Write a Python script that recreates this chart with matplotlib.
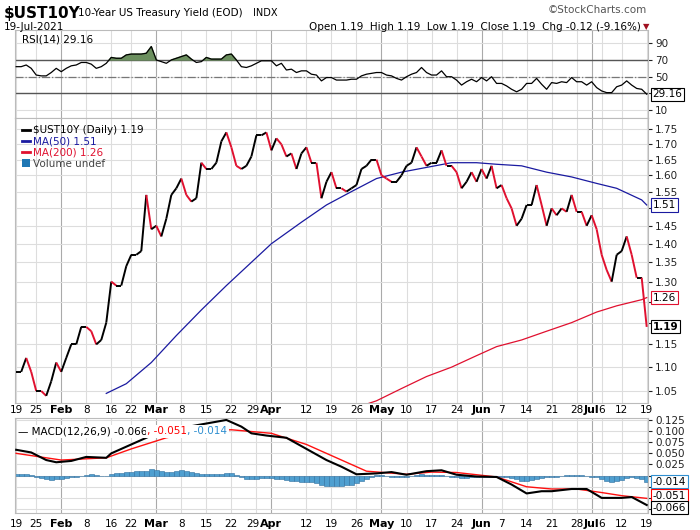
import numpy as np
import pandas as pd
import matplotlib
matplotlib.use("Agg")
import matplotlib.pyplot as plt
from matplotlib.collections import LineCollection
from matplotlib.ticker import FixedLocator, NullLocator

plt.rcParams['font.family'] = ['DejaVu Sans']

holidays = ["2021-02-15", "2021-05-31", "2021-07-05"]
dates = [d for d in pd.bdate_range("2021-01-19", "2021-07-19") if d.strftime("%Y-%m-%d") not in holidays]

price = [1.09,1.09,1.12,1.09,
 1.05,1.05,1.04,1.07,1.11,
 1.09,1.12,1.15,1.15,1.19,
 1.19,1.18,1.15,1.16,1.20,
 1.30,1.29,1.29,1.34,
 1.37,1.37,1.38,1.54,1.44,
 1.45,1.42,1.47,1.54,1.56,
 1.59,1.54,1.52,1.53,1.64,
 1.62,1.62,1.64,1.71,1.74,
 1.69,1.63,1.62,1.63,1.66,
 1.73,1.73,1.74,1.68,1.72,
 1.70,1.66,1.67,1.62,1.67,
 1.69,1.64,1.64,1.53,1.58,
 1.61,1.56,1.56,1.55,1.56,
 1.57,1.62,1.63,1.65,1.65,
 1.60,1.59,1.58,1.58,1.60,
 1.63,1.64,1.69,1.66,1.63,
 1.64,1.64,1.68,1.63,1.63,
 1.61,1.56,1.58,1.61,1.58,
 1.62,1.59,1.63,1.56,
 1.57,1.53,1.50,1.45,1.47,
 1.51,1.51,1.57,1.51,1.45,
 1.50,1.48,1.50,1.49,1.54,
 1.49,1.49,1.45,1.48,1.44,
 1.37,1.33,1.30,1.37,
 1.38,1.42,1.37,1.31,1.31,
 1.19]

rsi = [62,62,64,60,
 52,51,51,55,60,
 56,60,63,64,67,
 67,65,60,62,66,
 73,72,72,76,
 77,77,77,78,86,
 70,68,66,70,72,
 74,76,71,67,68,
 73,71,71,71,76,
 77,70,62,61,63,
 66,69,69,69,63,
 66,58,59,55,57,
 57,53,52,45,49,
 49,46,46,46,47,
 47,51,53,54,55,
 55,52,51,48,46,
 50,53,55,61,55,
 52,52,57,50,50,
 46,40,44,47,44,
 49,45,50,42,
 42,39,35,32,35,
 42,42,48,41,35,
 43,42,44,43,49,
 44,44,40,44,37,
 33,31,31,38,
 40,45,40,36,35,
 29.16]

hist = [.004,.004,.003,.002,
 -.003,-.005,-.008,-.009,-.008,
 -.007,-.005,-.003,-.002,0.0,
 .002,.003,.002,.0,.0,
 .004,.006,.007,.008,
 .009,.010,.010,.011,.016,
 .013,.010,.008,.009,.011,
 .012,.010,.008,.005,.004,
 .004,.003,.004,.003,.006,
 .005,.002,-.003,-.007,-.008,
 -.007,-.006,-.006,-.006,-.007,
 -.007,-.009,-.012,-.013,-.014,
 -.014,-.015,-.017,-.021,-.023,
 -.023,-.024,-.024,-.022,-.021,
 -.017,-.012,-.007,-.003,.001,
 .001,.0,-.002,-.004,-.004,
 -.003,-.001,.002,.003,.002,
 .001,.001,.002,.0,-.002,
 -.003,-.005,-.005,-.004,-.004,
 -.003,-.003,-.002,-.002,
 -.002,-.003,-.005,-.008,-.011,
 -.012,-.010,-.007,-.005,-.004,
 -.003,-.002,-.001,.001,.002,
 .001,.001,-.001,-.002,-.004,
 -.008,-.012,-.015,-.013,
 -.010,-.006,-.004,-.005,-.007,
 -.014]

ma50_dates = ["2021-02-12","2021-02-19","2021-02-26","2021-03-05","2021-03-12","2021-03-19","2021-03-26",
 "2021-04-01","2021-04-09","2021-04-16","2021-04-23","2021-04-30","2021-05-07","2021-05-14","2021-05-21",
 "2021-05-28","2021-06-04","2021-06-11","2021-06-18","2021-06-25","2021-07-02","2021-07-09","2021-07-16","2021-07-19"]
ma50 = [1.045,1.065,1.11,1.17,1.23,1.29,1.35,1.40,1.46,1.51,1.55,1.59,1.61,1.625,1.64,1.64,1.635,1.63,1.61,1.595,1.575,1.56,1.525,1.51]
ma200_dates = ["2021-04-27","2021-04-30","2021-05-07","2021-05-14","2021-05-21","2021-05-28","2021-06-04",
 "2021-06-11","2021-06-18","2021-06-25","2021-07-02","2021-07-09","2021-07-16","2021-07-19"]
ma200 = [1.02,1.03,1.055,1.08,1.10,1.125,1.145,1.16,1.18,1.20,1.225,1.24,1.255,1.26]

macd_dates = ["2021-01-19","2021-01-22","2021-01-27","2021-01-29","2021-02-03","2021-02-08","2021-02-12","2021-02-16",
 "2021-02-22","2021-02-26","2021-03-01","2021-03-03","2021-03-05","2021-03-12","2021-03-19","2021-03-24","2021-03-26",
 "2021-03-31","2021-04-06","2021-04-12","2021-04-16","2021-04-21","2021-04-26","2021-04-30","2021-05-05","2021-05-10",
 "2021-05-14","2021-05-19","2021-05-24","2021-05-28","2021-06-04","2021-06-09","2021-06-14","2021-06-17","2021-06-21",
 "2021-06-25","2021-06-30","2021-07-06","2021-07-12","2021-07-14","2021-07-19"]
macd = [0.058,0.052,0.035,0.030,0.033,0.042,0.040,0.050,0.070,0.090,0.098,0.097,0.105,0.115,0.125,0.110,0.095,0.090,
 0.085,0.060,0.035,0.020,0.003,0.005,0.008,0.002,0.010,0.012,0.002,-0.002,-0.003,-0.020,-0.040,-0.035,-0.035,-0.030,
 -0.030,-0.050,-0.050,-0.048,-0.066]
sig_dates = ["2021-01-19","2021-02-01","2021-02-12","2021-02-22","2021-03-03","2021-03-12","2021-03-22","2021-04-01",
 "2021-04-12","2021-04-22","2021-04-28","2021-05-10","2021-05-17","2021-05-24","2021-06-04","2021-06-14","2021-06-21",
 "2021-06-28","2021-07-06","2021-07-12","2021-07-19"]
signal = [0.050,0.035,0.040,0.060,0.085,0.100,0.103,0.095,0.070,0.030,0.010,0.003,0.008,0.007,-0.003,-0.025,-0.030,
 -0.030,-0.038,-0.045,-0.051]

tick_dates = ["2021-01-19","2021-01-25","2021-02-01","2021-02-08","2021-02-16","2021-02-22","2021-03-01","2021-03-08",
 "2021-03-15","2021-03-22","2021-03-29","2021-04-01","2021-04-12","2021-04-19","2021-04-26","2021-05-03","2021-05-10",
 "2021-05-17","2021-05-24","2021-06-01","2021-06-07","2021-06-14","2021-06-21","2021-06-28","2021-07-01","2021-07-06",
 "2021-07-12","2021-07-19"]
tick_labels = ["19","25","Feb","8","16","22","Mar","8","15","22","29","Apr","12","19","26","May","10","17","24",
 "Jun","7","14","21","28","Jul","6","12","19"]

n = min(len(dates), len(price), len(rsi), len(hist))
dates = dates[:n]
idx = {d.strftime("%Y-%m-%d"): i for i, d in enumerate(dates)}
def pos(ds):
    return [idx[d] for d in ds]

x = np.arange(n)
fig = plt.figure(figsize=(7, 5.3), dpi=100)
L, W = 0.021, 0.905
ax_rsi = fig.add_axes([L, 0.777, W, 0.166])
ax_p = fig.add_axes([L, 0.240, W, 0.537])
ax_m = fig.add_axes([L, 0.032, W, 0.179])

tpos = pos(tick_dates)
month_pos = [p for p, l in zip(tpos, tick_labels) if not l.isdigit()]
fs = 7.5
for ax in (ax_rsi, ax_p, ax_m):
    ax.set_xlim(-0.3, n - 1 + 0.3)
    ax.set_xticks(tpos)
    ax.set_xticklabels([])
    ax.tick_params(axis='x', length=0)
    for p in tpos:
        ax.axvline(p, color='#aaaaaa' if p in month_pos else '#dddddd', lw=0.8, zorder=0)
    for s in ax.spines.values():
        s.set_color('#bbbbbb')
    ax.yaxis.tick_right()
    ax.tick_params(axis='y', length=3, labelsize=fs, colors='#222222', pad=2)

def fixed_ticks(ax, vals, fmt, hide=()):
    ax.yaxis.set_major_locator(FixedLocator(vals))
    ax.yaxis.set_minor_locator(NullLocator())
    ax.set_yticklabels(["" if v in hide else fmt.format(v) for v in vals])
    for v in vals:
        ax.axhline(v, color='#dddddd', lw=0.8, zorder=0)

box = lambda ec: dict(boxstyle='square,pad=0.15', fc='white', ec=ec, lw=0.8)

# RSI
ax_rsi.set_ylim(0.5, 105.5)
fixed_ticks(ax_rsi, [10, 30, 50, 70, 90], "{:d}", hide=(30,))
ax_rsi.axhline(70, color='#555555', lw=1)
ax_rsi.axhline(30, color='#555555', lw=1)
ax_rsi.axhline(50, color='#777777', lw=0.9, ls='-.')
r = np.array(rsi[:n], float)
ax_rsi.fill_between(x, 70, r, where=r > 70, interpolate=True, color='#6b8f5e', zorder=2)
ax_rsi.plot(x, r, color='black', lw=0.9, zorder=3)
ax_rsi.text(0.012, 0.9, "RSI(14) 29.16", transform=ax_rsi.transAxes, fontsize=fs, va='center', ha='left')
ax_rsi.text(n - 1 + 1.2, r[-1], "29.16", fontsize=fs, va='center', ha='left', clip_on=False, bbox=box('black'))

# Price
ax_p.set_yscale('log')
ax_p.set_ylim(1.026, 1.789)
pt = [1.05, 1.10, 1.15, 1.20, 1.25, 1.30, 1.35, 1.40, 1.45, 1.50, 1.55, 1.60, 1.65, 1.70, 1.75]
fixed_ticks(ax_p, pt, "{:.2f}", hide=(1.20, 1.25, 1.50))
pr = np.array(price[:n])
segs = [[(i, pr[i]), (i + 1, pr[i + 1])] for i in range(n - 1)]
cols = ['#e0102f' if pr[i + 1] < pr[i] else 'black' for i in range(n - 1)]
ax_p.add_collection(LineCollection(segs, colors=cols, linewidths=1.4, zorder=4))
ax_p.plot(pos(ma50_dates), ma50, color='#1a1aa0', lw=0.9, zorder=3)
ax_p.plot(pos(ma200_dates), ma200, color='#e0102f', lw=0.9, zorder=3)
ax_p.plot([], [], color='black', lw=2, label="$UST10Y (Daily) 1.19")
ax_p.plot([], [], color='#1a1aa0', lw=2, label="MA(50) 1.51")
ax_p.plot([], [], color='#e0102f', lw=2, label="MA(200) 1.26")
ax_p.bar([], [], color='#666666', label="Volume undef")
leg = ax_p.legend(loc='upper left', fontsize=fs, frameon=False, handlelength=0.8, handletextpad=0.3,
                  labelspacing=0.1, borderaxespad=0.3)
for t, c in zip(leg.get_texts(), ['black', '#1a1aa0', '#e0102f', '#444444']):
    t.set_color(c)
for val, ec, bold in ((1.51, '#1a1aa0', False), (1.26, '#e0102f', False), (1.19, 'black', True)):
    ax_p.text(n - 1 + 1.2, val, f"{val:.2f}", fontsize=fs, va='center', ha='left', clip_on=False,
              fontweight='bold' if bold else 'normal', zorder=6, bbox=box(ec))

# MACD
ax_m.set_ylim(-0.084, 0.129)
mt = [-0.075, -0.050, -0.025, 0.0, 0.025, 0.050, 0.075, 0.100, 0.125]
fixed_ticks(ax_m, mt, "{:.3f}", hide=(-0.075, -0.050, -0.025, 0.0))
ax_m.bar(x, hist[:n], width=1.0, color='#4f9fd0', edgecolor='#2f6f9f', lw=0.4, zorder=2)
ax_m.plot(pos(sig_dates), signal, color='#ff1010', lw=1.0, zorder=3)
ax_m.plot(pos(macd_dates), macd, color='black', lw=1.5, zorder=4)
t1 = ax_m.text(0.005, 0.86, "— MACD(12,26,9) -0.066", transform=ax_m.transAxes, fontsize=fs, va='center',
               ha='left', zorder=6, bbox=dict(fc='white', ec='none', pad=1))
t2 = ax_m.annotate(", -0.051", xy=(1, 0), xycoords=t1, va='bottom', ha='left', fontsize=fs, color='red',
                   zorder=6, bbox=dict(fc='white', ec='none', pad=1))
ax_m.annotate(", -0.014", xy=(1, 0), xycoords=t2, va='bottom', ha='left', fontsize=fs, color='#2f8fd0',
              zorder=6, bbox=dict(fc='white', ec='none', pad=1))
for val, ypos, ec in ((-0.014, -0.014, '#2f8fd0'), (-0.051, -0.045, 'red'), (-0.066, -0.072, 'black')):
    ax_m.text(n - 1 + 1.2, ypos, f"{val:.3f}", fontsize=fs, va='center', ha='left', clip_on=False, zorder=6,
              bbox=box(ec))

# date labels (between price and macd, and at bottom)
for p, lab in zip(tpos, tick_labels):
    bold = not lab.isdigit()
    xf = L + W * (p + 0.3) / (n - 1 + 0.6)
    if lab == "29":
        xf -= 0.005
    for yy in (0.226, 0.012):
        fig.text(xf, yy, lab, fontsize=fs + (0.5 if bold else 0),
                 fontweight='bold' if bold else 'normal', ha='center', va='center')

# header
fig.text(0.006, 0.975, "$UST10Y", fontsize=11, fontweight='bold', va='center')
fig.text(0.112, 0.975, "10-Year US Treasury Yield (EOD)", fontsize=7.5, va='center')
fig.text(0.362, 0.975, "INDX", fontsize=7, va='center')
fig.text(0.924, 0.981, "©StockCharts.com", fontsize=7.5, va='center', ha='right', color='#555555')
fig.text(0.006, 0.950, "19-Jul-2021", fontsize=7.5, va='center')
fig.text(0.915, 0.950, "Open 1.19  High 1.19  Low 1.19  Close 1.19  Chg -0.12 (-9.16%)", fontsize=7.5,
         va='center', ha='right')
fig.text(0.918, 0.950, "▼", fontsize=6, va='center', ha='left', color='#a01020')

fig.savefig("out.png", dpi=100, facecolor='white')
